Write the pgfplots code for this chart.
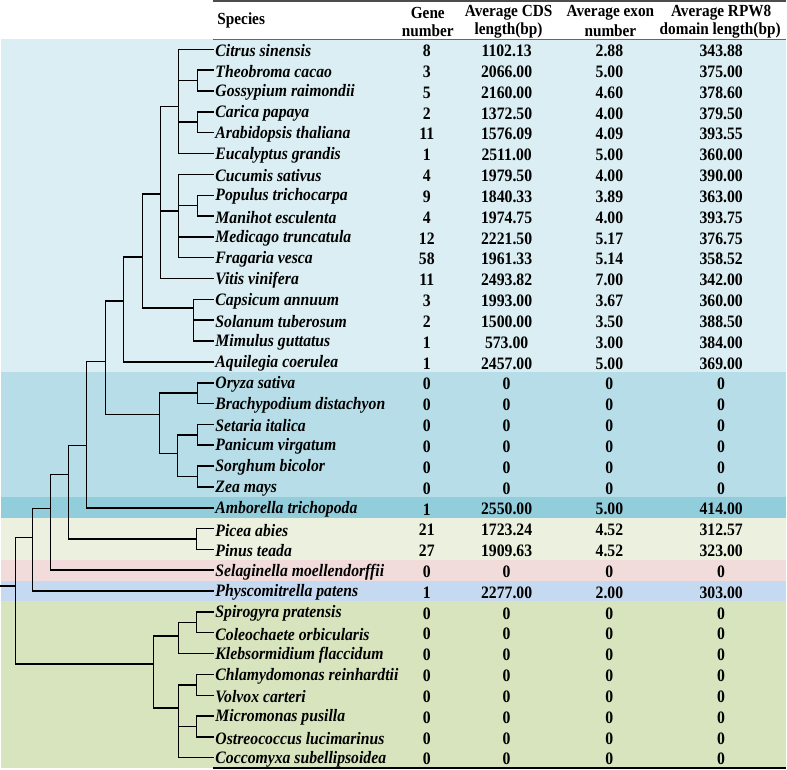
\documentclass[border=0pt]{standalone}
\usepackage{pgfplots}
\pgfplotsset{compat=1.18}
\usepackage{pgfplotstable}
\usepackage{fontspec}
\setmainfont{Liberation Serif}[FakeStretch=0.9]
\definecolor{bandA}{HTML}{DAEEF3}
\definecolor{bandB}{HTML}{B7DEE8}
\definecolor{bandC}{HTML}{92CDDC}
\definecolor{bandD}{HTML}{EBF1DE}
\definecolor{bandE}{HTML}{F2DCDB}
\definecolor{bandF}{HTML}{C5D9F1}
\definecolor{bandG}{HTML}{D7E4BD}
\pgfplotstableread[col sep=comma]{
name,gene,cds,exon,rpw8
Citrus sinensis,8,1102.13,2.88,343.88
Theobroma cacao,3,2066.00,5.00,375.00
Gossypium raimondii,5,2160.00,4.60,378.60
Carica papaya,2,1372.50,4.00,379.50
Arabidopsis thaliana,11,1576.09,4.09,393.55
Eucalyptus grandis,1,2511.00,5.00,360.00
Cucumis sativus,4,1979.50,4.00,390.00
Populus trichocarpa,9,1840.33,3.89,363.00
Manihot esculenta,4,1974.75,4.00,393.75
Medicago truncatula,12,2221.50,5.17,376.75
Fragaria vesca,58,1961.33,5.14,358.52
Vitis vinifera,11,2493.82,7.00,342.00
Capsicum annuum,3,1993.00,3.67,360.00
Solanum tuberosum,2,1500.00,3.50,388.50
Mimulus guttatus,1,573.00,3.00,384.00
Aquilegia coerulea,1,2457.00,5.00,369.00
Oryza sativa,0,0,0,0
Brachypodium distachyon,0,0,0,0
Setaria italica,0,0,0,0
Panicum virgatum,0,0,0,0
Sorghum bicolor,0,0,0,0
Zea mays,0,0,0,0
Amborella trichopoda,1,2550.00,5.00,414.00
Picea abies,21,1723.24,4.52,312.57
Pinus teada,27,1909.63,4.52,323.00
Selaginella moellendorffii,0,0,0,0
Physcomitrella patens,1,2277.00,2.00,303.00
Spirogyra pratensis,0,0,0,0
Coleochaete orbicularis,0,0,0,0
Klebsormidium flaccidum,0,0,0,0
Chlamydomonas reinhardtii,0,0,0,0
Volvox carteri,0,0,0,0
Micromonas pusilla,0,0,0,0
Ostreococcus lucimarinus,0,0,0,0
Coccomyxa subellipsoidea,0,0,0,0
}\datatable
\begin{document}
\begin{tikzpicture}
\begin{axis}[
  width=787pt, height=772pt, scale only axis,
  xmin=0, xmax=787, ymin=0, ymax=772, y dir=reverse,
  hide axis, clip=false,
  txt/.style={only marks, mark=*, mark size=0pt, mark options={draw=none,fill=none},
    nodes near coords, point meta=explicit symbolic,
    every node near coord/.append style={font=\fontsize{17.5}{19}\selectfont\bfseries, inner sep=0pt, anchor=center}},
]
% background bands
\addplot[fill=bandA, draw=none] coordinates {(0,39.6) (787,39.6) (787,373.6) (0,373.6)} -- cycle;
\addplot[fill=bandB, draw=none] coordinates {(0,373.6) (787,373.6) (787,499) (0,499)} -- cycle;
\addplot[fill=bandC, draw=none] coordinates {(0,499) (787,499) (787,519.8) (0,519.8)} -- cycle;
\addplot[fill=bandD, draw=none] coordinates {(0,519.8) (787,519.8) (787,561.5) (0,561.5)} -- cycle;
\addplot[fill=bandE, draw=none] coordinates {(0,561.5) (787,561.5) (787,582.4) (0,582.4)} -- cycle;
\addplot[fill=bandF, draw=none] coordinates {(0,582.4) (787,582.4) (787,603.3) (0,603.3)} -- cycle;
\addplot[fill=bandG, draw=none] coordinates {(0,603.3) (787,603.3) (787,770.3) (0,770.3)} -- cycle;
% table rules
\addplot[black!70, line width=2pt] coordinates {(213,1.5) (787,1.5)};
\addplot[black!60, line width=1pt] coordinates {(213,39.6) (787,39.6)};
\addplot[black, line width=1.8pt] coordinates {(213,770.5) (787,770.5)};
% tree
\addplot[black, line width=1.5pt, line cap=rect, unbounded coords=jump] coordinates {
(178,50) (213,50) (nan,nan)
(213,70.9) (197,70.9) (197,91.8) (213,91.8) (nan,nan)
(178,81.3) (197,81.3) (nan,nan)
(213,112.6) (197,112.6) (197,133.5) (213,133.5) (nan,nan)
(178,123) (197,123) (nan,nan)
(178,154.4) (213,154.4) (nan,nan)
(178,50) (178,154.4) (nan,nan)
(160,107) (178,107) (nan,nan)
(178,175.3) (213,175.3) (nan,nan)
(213,196.2) (197,196.2) (197,217) (213,217) (nan,nan)
(178,206.6) (197,206.6) (nan,nan)
(178,237.9) (213,237.9) (nan,nan)
(178,258.8) (213,258.8) (nan,nan)
(178,175.3) (178,258.8) (nan,nan)
(160,212) (178,212) (nan,nan)
(160,279.7) (213,279.7) (nan,nan)
(160,107) (160,279.7) (nan,nan)
(142,195) (160,195) (nan,nan)
(193,300.6) (213,300.6) (nan,nan)
(193,321.4) (213,321.4) (nan,nan)
(193,342.3) (213,342.3) (nan,nan)
(193,300.6) (193,342.3) (nan,nan)
(142,309) (193,309) (nan,nan)
(142,195) (142,309) (nan,nan)
(123,258) (142,258) (nan,nan)
(123,363.2) (213,363.2) (nan,nan)
(123,258) (123,363.2) (nan,nan)
(105,302) (123,302) (nan,nan)
(213,384.1) (197,384.1) (197,405) (213,405) (nan,nan)
(159,394.5) (197,394.5) (nan,nan)
(213,425.8) (197,425.8) (197,446.7) (213,446.7) (nan,nan)
(177,436.3) (197,436.3) (nan,nan)
(213,467.6) (197,467.6) (197,488.5) (213,488.5) (nan,nan)
(177,478) (197,478) (nan,nan)
(177,436.3) (177,478) (nan,nan)
(159,455) (177,455) (nan,nan)
(159,394.5) (159,455) (nan,nan)
(105,416) (159,416) (nan,nan)
(105,302) (105,416) (nan,nan)
(86,363) (105,363) (nan,nan)
(86,509.4) (213,509.4) (nan,nan)
(86,363) (86,509.4) (nan,nan)
(68,447) (86,447) (nan,nan)
(213,530.2) (196,530.2) (196,551.1) (213,551.1) (nan,nan)
(68,540.7) (196,540.7) (nan,nan)
(68,447) (68,540.7) (nan,nan)
(50,476) (68,476) (nan,nan)
(50,572) (213,572) (nan,nan)
(50,476) (50,572) (nan,nan)
(32,510) (50,510) (nan,nan)
(32,592.9) (213,592.9) (nan,nan)
(32,510) (32,592.9) (nan,nan)
(15,539) (32,539) (nan,nan)
(213,613.8) (196,613.8) (196,634.6) (213,634.6) (nan,nan)
(178,624.2) (196,624.2) (nan,nan)
(178,655.5) (213,655.5) (nan,nan)
(178,624.2) (178,655.5) (nan,nan)
(153,638) (178,638) (nan,nan)
(213,676.4) (196,676.4) (196,697.3) (213,697.3) (nan,nan)
(178,686.8) (196,686.8) (nan,nan)
(213,718.2) (196,718.2) (196,739) (213,739) (nan,nan)
(178,728.6) (196,728.6) (nan,nan)
(178,759.9) (213,759.9) (nan,nan)
(178,686.8) (178,759.9) (nan,nan)
(153,710) (178,710) (nan,nan)
(153,638) (153,710) (nan,nan)
(15,666) (153,666) (nan,nan)
(15,539) (15,666) (nan,nan)
(0,588) (15,588)
};
% table text
\addplot[txt, every node near coord/.append style={anchor=west, font=\fontsize{17.5}{19}\selectfont\bfseries\itshape}]
  table[x expr=215, y expr={51.5+20.88*\coordindex}, meta=name] {\datatable};
\addplot[txt] table[x expr=427, y expr={51.5+20.88*\coordindex}, meta=gene] {\datatable};
\addplot[txt] table[x expr=507, y expr={51.5+20.88*\coordindex}, meta=cds] {\datatable};
\addplot[txt] table[x expr=610, y expr={51.5+20.88*\coordindex}, meta=exon] {\datatable};
\addplot[txt] table[x expr=722, y expr={51.5+20.88*\coordindex}, meta=rpw8] {\datatable};
% headers
\begin{scope}[every node/.style={font=\fontsize{17}{19}\selectfont\bfseries, inner sep=0pt}]
\node[anchor=west] at (axis cs:217,21) {Species};
\node at (axis cs:428,13) {Gene};
\node at (axis cs:428,31) {number};
\node at (axis cs:509,13) {Average CDS};
\node at (axis cs:509,31) {length(bp)};
\node at (axis cs:611,13) {Average exon};
\node at (axis cs:611,31) {number};
\node at (axis cs:722,13) {Average RPW8};
\node at (axis cs:721,31) {domain length(bp)};
\end{scope}
\end{axis}
\end{tikzpicture}
\end{document}
